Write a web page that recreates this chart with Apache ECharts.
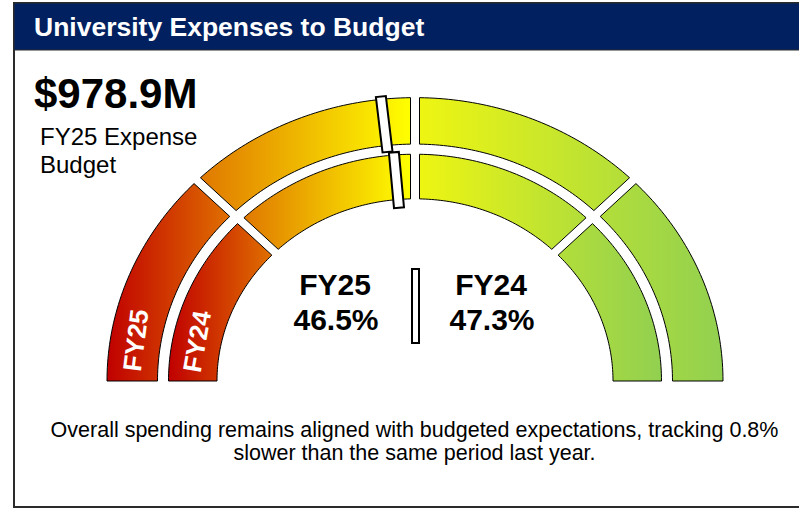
<!DOCTYPE html>
<html><head><meta charset="utf-8">
<script src="https://cdn.jsdelivr.net/npm/echarts@6/dist/echarts.min.js"></script>
<style>html,body{margin:0;padding:0;background:#fff}#c{width:799px;height:512px}</style>
</head><body><div id="c"></div>
<script>
// ---- data ----
const titleText = 'University Expenses to Budget';
const headline = '$978.9M';
const headlineSub = ['FY25 Expense', 'Budget'];
const rings = ['FY25', 'FY24'];
const ringValues = [46.5, 47.3];
const valueLabels = ['46.5%', '47.3%'];
const bandBounds = [0, 25, 50, 75, 100];
const bandColors = [['#C00000', '#E07000'], ['#E07800', '#FFFF00'], ['#EEF512', '#B2DE3A'], ['#B2DE3A', '#92D050']];
const noteLines = ['Overall spending remains aligned with budgeted expectations, tracking 0.8%', 'slower than the same period last year.'];

// ---- layout ----
const CX = 415, CY = 381, R = 308, K = 0.92, GAP = 4.5;
const RING_R = [[257.5, 308], [198, 246.5]];
const MARK_R = [[250.5, 311], [189, 249.5]];
const LABEL_AT = [5.0, 6.2];
const LABEL_ROT = [83, 80];
const FONT = '"Liberation Sans", Arial, Helvetica, sans-serif';

const chart = echarts.init(document.getElementById('c'), null, {renderer: 'svg'});

function helpers(api) {
  const c0 = api.coord([0, 0]);
  const raw = (r, v) => api.coord([r, v]);
  const sc = (p) => [p[0], c0[1] + (p[1] - c0[1]) * K];
  const pt = (r, v) => sc(raw(r, v));
  return {c0, raw, sc, pt};
}

const segData = [];
rings.forEach((_, i) => { for (let j = 0; j < bandBounds.length - 1; j++) segData.push([i, j]); });
const markData = ringValues.map((v, i) => [i, v]);

function txt(x, y, text, font, align, fill) {
  return {type: 'text', z: 20, x: x, y: y, style: {text: text, fill: fill || '#000', font: font, textAlign: align, textVerticalAlign: 'middle', align: align, verticalAlign: 'middle'}};
}

chart.setOption({
  animation: false,
  polar: {center: [CX, CY], radius: R},
  angleAxis: {type: 'value', min: 0, max: 200, startAngle: 180, clockwise: true, show: false},
  radiusAxis: {type: 'value', min: 0, max: R, show: false},
  graphic: [
    {type: 'rect', z: 0, shape: {x: 14, y: 3, width: 800, height: 504}, style: {fill: '#fff', stroke: '#2b2b2b', lineWidth: 2}},
    {type: 'rect', z: 1, shape: {x: 14, y: 3, width: 800, height: 47}, style: {fill: '#002060', stroke: '#2b2b2b', lineWidth: 1}},
    txt(34, 27, titleText, 'bold 26.5px ' + FONT, 'left', '#fff'),
    txt(34, 93.5, headline, 'bold 42px ' + FONT, 'left'),
    txt(40, 136.6, headlineSub[0], '24px ' + FONT, 'left'),
    txt(40, 164.3, headlineSub[1], '24px ' + FONT, 'left'),
    txt(335, 284.5, rings[0], 'bold 30px ' + FONT, 'center'),
    txt(336, 319.5, valueLabels[0], 'bold 30px ' + FONT, 'center'),
    txt(491, 284.5, rings[1], 'bold 30px ' + FONT, 'center'),
    txt(492, 319.5, valueLabels[1], 'bold 30px ' + FONT, 'center'),
    {type: 'rect', z: 20, shape: {x: 412, y: 269, width: 7, height: 74}, style: {fill: '#fff', stroke: '#000', lineWidth: 2}},
    txt(414.5, 429.6, noteLines[0], '21.5px ' + FONT, 'center'),
    txt(414.5, 453.2, noteLines[1], '21.5px ' + FONT, 'center')
  ],
  series: [
    {
      type: 'custom', coordinateSystem: 'polar', z: 5, silent: true,
      data: segData,
      renderItem: function (params, api) {
        const h = helpers(api);
        const ri = api.value(0), si = api.value(1);
        const r0 = RING_R[ri][0], r1 = RING_R[ri][1];
        const a = bandBounds[si], b = bandBounds[si + 1];
        const dv = (r) => Math.asin(GAP / r) * 180 / Math.PI / 1.8;
        const pts = [];
        const N = 48;
        const s1 = a > 0 ? a + dv(r1) : a, e1 = b < 100 ? b - dv(r1) : b;
        const s0 = a > 0 ? a + dv(r0) : a, e0 = b < 100 ? b - dv(r0) : b;
        for (let k = 0; k <= N; k++) pts.push(h.pt(r1, s1 + (e1 - s1) * k / N));
        for (let k = N; k >= 0; k--) pts.push(h.pt(r0, s0 + (e0 - s0) * k / N));
        const children = [{
          type: 'polygon', shape: {points: pts},
          style: {
            fill: {type: 'linear', x: 0, y: 0, x2: 1, y2: 0, colorStops: [{offset: 0, color: bandColors[si][0]}, {offset: 1, color: bandColors[si][1]}]},
            stroke: '#000', lineWidth: 1
          }
        }];
        if (si === 0) {
          const rm = (r0 + r1) / 2, v = LABEL_AT[ri];
          const p = h.pt(rm, v);
          children.push({
            type: 'text', x: p[0], y: p[1], rotation: LABEL_ROT[ri] * Math.PI / 180,
            style: {text: rings[ri], fill: '#fff', font: 'bold 26px ' + FONT, textAlign: 'center', textVerticalAlign: 'middle', align: 'center', verticalAlign: 'middle'}
          });
        }
        return {type: 'group', children: children};
      }
    },
    {
      type: 'custom', coordinateSystem: 'polar', z: 8, silent: true,
      data: markData,
      renderItem: function (params, api) {
        const h = helpers(api);
        const ri = api.value(0), v = api.value(1);
        const p0 = h.raw(MARK_R[ri][0], v), p1 = h.raw(MARK_R[ri][1], v);
        const dx = p1[0] - p0[0], dy = p1[1] - p0[1], L = Math.hypot(dx, dy);
        const nx = -dy / L * 5, ny = dx / L * 5;
        const corners = [[p0[0] + nx, p0[1] + ny], [p1[0] + nx, p1[1] + ny], [p1[0] - nx, p1[1] - ny], [p0[0] - nx, p0[1] - ny]].map(h.sc);
        return {type: 'polygon', shape: {points: corners}, style: {fill: '#fff', stroke: '#000', lineWidth: 2}};
      }
    }
  ]
});
</script></body></html>
